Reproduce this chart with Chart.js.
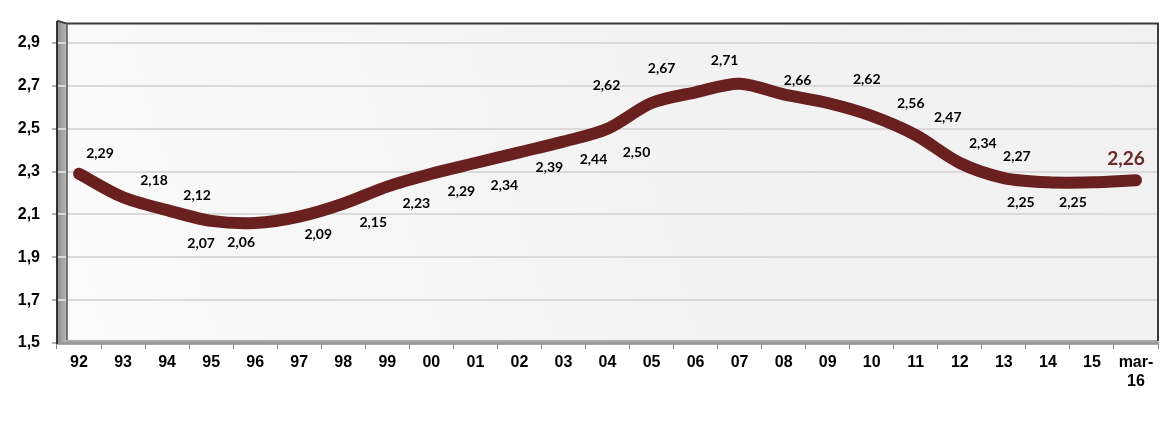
<!DOCTYPE html>
<html>
<head>
<meta charset="utf-8">
<script src="https://cdn.jsdelivr.net/npm/chart.js@4"></script>
<style>
html,body{margin:0;padding:0;background:#fff;}
#wrap{width:1176px;height:445px;}
</style>
</head>
<body>
<div id="wrap"><canvas id="c" width="1176" height="445"></canvas></div>
<script>
const categories = ['92','93','94','95','96','97','98','99','00','01','02','03','04','05','06','07','08','09','10','11','12','13','14','15',['mar-','16']];
const values = [2.29,2.18,2.12,2.07,2.06,2.09,2.15,2.23,2.29,2.34,2.39,2.44,2.50,2.62,2.67,2.71,2.66,2.62,2.56,2.47,2.34,2.27,2.25,2.25,2.26];
const yTicks = [1.5,1.7,1.9,2.1,2.3,2.5,2.7,2.9];

const fmt = v => v.toFixed(2).replace('.', ',');

// label offsets (px) relative to each point
const labelOffsets = [
  [21,-20],[31,-17],[30,-15],[-10,23],[-14,19],[19,18],[30,19],[29,17],[30,18],[29,22],
  [30,15],[30,18],[29,24],[-45,-18],[-34,-24],[-15,-23],[14,-14],[39,-24],[39,-12],[32,-18],
  [23,-20],[13,-22],[-27,20],[-19,20],[-10,-21]
];

const framePlugin = {
  id: 'frame',
  beforeDraw(chart) {
    const {ctx, chartArea: a} = chart;
    const d = 10;
    ctx.save();
    const g = ctx.createLinearGradient(a.left, a.bottom, a.right, a.top);
    g.addColorStop(0, '#fbfbfb');
    g.addColorStop(0.5, '#f3f3f3');
    g.addColorStop(1, '#f1f1f1');
    ctx.fillStyle = g;
    ctx.fillRect(a.left + d, a.top + 2, a.right - a.left - d, a.bottom - a.top - 2);
    const wg = ctx.createLinearGradient(a.left, 0, a.left + d, 0);
    wg.addColorStop(0, '#8a8a8a');
    wg.addColorStop(1, '#b9b9b9');
    ctx.fillStyle = wg;
    ctx.beginPath();
    ctx.moveTo(a.left, a.top - 1);
    ctx.lineTo(a.left + d, a.top + 2);
    ctx.lineTo(a.left + d, a.bottom - 3);
    ctx.lineTo(a.left, a.bottom + 2);
    ctx.closePath();
    ctx.fill();
    ctx.fillStyle = '#a9a9a9';
    ctx.beginPath();
    ctx.moveTo(a.left, a.bottom + 2);
    ctx.lineTo(a.left + d, a.bottom - 3);
    ctx.lineTo(a.right, a.bottom - 3);
    ctx.lineTo(a.right, a.bottom + 2);
    ctx.closePath();
    ctx.fill();
    ctx.restore();
  },
  beforeDatasetsDraw(chart) {
    const {ctx, chartArea: a} = chart;
    const d = 10;
    ctx.save();
    ctx.strokeStyle = '#3c3c3c';
    ctx.lineWidth = 2;
    ctx.beginPath();
    ctx.moveTo(a.left, a.top - 1);
    ctx.lineTo(a.left + d, a.top + 2);
    ctx.lineTo(a.right, a.top + 2);
    ctx.lineTo(a.right, a.bottom - 2);
    ctx.stroke();
    ctx.lineWidth = 1.5;
    ctx.strokeStyle = '#555';
    ctx.beginPath();
    ctx.moveTo(a.left + d, a.top + 2);
    ctx.lineTo(a.left + d, a.bottom - 3);
    ctx.stroke();
    ctx.restore();
  }
};

const labelPlugin = {
  id: 'pointLabels',
  afterDatasetsDraw(chart) {
    const {ctx} = chart;
    const meta = chart.getDatasetMeta(0);
    ctx.save();
    ctx.textAlign = 'center';
    ctx.textBaseline = 'middle';
    meta.data.forEach((pt, i) => {
      const off = labelOffsets[i] || [0, -18];
      const last = i === values.length - 1;
      ctx.font = last ? 'bold 19px Lato, "Open Sans", sans-serif' : 'bold 14px Lato, "Open Sans", sans-serif';
      ctx.fillStyle = last ? '#6b2a2a' : '#000';
      ctx.fillText(fmt(values[i]), pt.x + off[0], pt.y + off[1]);
    });
    ctx.restore();
  }
};

new Chart(document.getElementById('c'), {
  type: 'line',
  data: {
    labels: categories,
    datasets: [{
      data: values,
      borderColor: '#6b2020',
      borderWidth: 12,
      borderCapStyle: 'round',
      borderJoinStyle: 'round',
      tension: 0.3,
      pointRadius: 0,
      fill: false
    }]
  },
  options: {
    responsive: false,
    animation: false,
    events: [],
    layout: { padding: { top: 18, right: 18, left: 0, bottom: 0 } },
    plugins: { legend: { display: false }, tooltip: { enabled: false } },
    scales: {
      x: {
        type: 'category',
        offset: true,
        grid: { offset: true, drawOnChartArea: false, drawTicks: true, tickLength: 6, color: '#888', lineWidth: 1 },
        border: { display: true, color: '#999', width: 2 },
        ticks: { color: '#000', font: { family: '"Liberation Sans", Arial, sans-serif', weight: 'bold', size: 16 }, padding: 4, maxRotation: 0, autoSkip: false },
        afterFit(s) { s.height = 102; }
      },
      y: {
        min: 1.5,
        max: 3.0,
        afterBuildTicks(s) { s.ticks = yTicks.map(v => ({ value: v })); },
        grid: { color: '#dadada', lineWidth: 2, drawTicks: true, tickLength: 5, tickColor: '#666', tickWidth: 1 },
        border: { display: true, color: '#333', width: 2 },
        ticks: {
          color: '#000',
          font: { family: '"Liberation Sans", Arial, sans-serif', weight: 'bold', size: 16 },
          padding: 12,
          callback: v => Number(v).toFixed(1).replace('.', ',')
        },
        afterFit(s) { s.width = 57; }
      }
    }
  },
  plugins: [framePlugin, labelPlugin]
});
</script>
</body>
</html>
